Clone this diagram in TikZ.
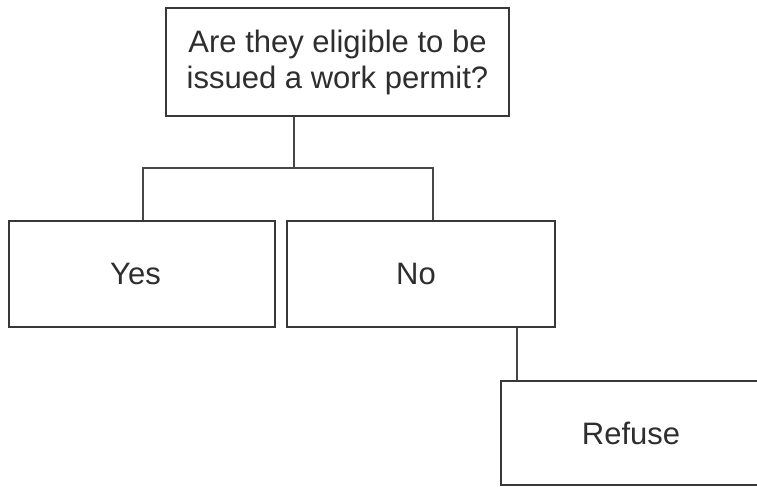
\documentclass[tikz,border=0pt]{standalone}
\usepackage{fontspec}
\setmainfont{Liberation Sans}
\begin{document}
\begin{tikzpicture}[x=1pt,y=-1pt,
  box/.style={draw=black!78, line width=1.8pt, inner sep=0pt, text=black!82,
    font=\fontsize{31}{36}\selectfont},
  conn/.style={draw=black!72, line width=1.8pt}]
\useasboundingbox[fill=white] (0,0) rectangle (757,487);
\node[box, minimum width=343pt, minimum height=108pt, align=center] (top) at (337.5,62)
  {Are they eligible to be\\issued a work permit?};
\node[box, minimum width=266pt, minimum height=106pt] (yes) at (142,274) {Yes\hspace*{13pt}};
\node[box, minimum width=268pt, minimum height=106pt] (no) at (421,274) {No\hspace*{10pt}};
\node[box, minimum width=260pt, minimum height=104pt] (refuse) at (631,433) {Refuse};
\coordinate (j) at (294,168);
\coordinate (jl) at (143,168);
\coordinate (jr) at (433,168);
\coordinate (r) at (517,350);
\draw[conn] (top.south -| j) -- (j);
\draw[conn] (yes.north -| jl) -- (jl) -- (jr) -- (no.north -| jr);
\draw[conn] (no.south -| r) -- (refuse.north -| r);
\end{tikzpicture}
\end{document}
